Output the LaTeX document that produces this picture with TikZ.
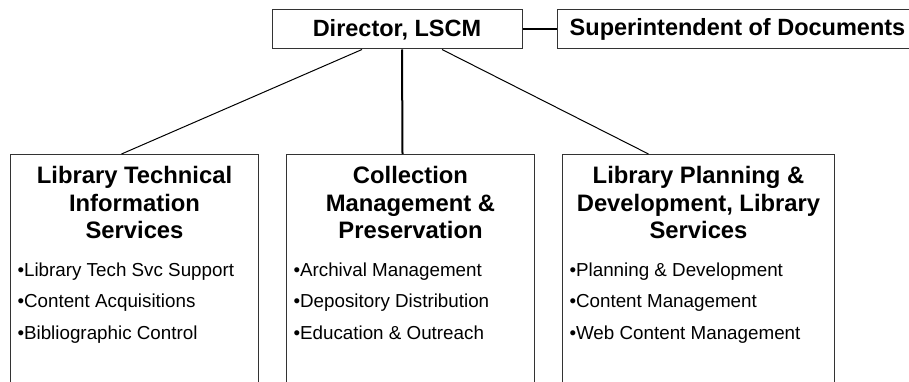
\documentclass[tikz,border=0pt]{standalone}
\usepackage{fontspec}
\setmainfont{Liberation Sans}
\usetikzlibrary{positioning,calc}

\begin{document}
\begin{tikzpicture}[x=1pt, y=-1pt, line width=1pt,
  head/.style = {draw=black!80, rectangle, minimum height=39pt, inner sep=0pt, font=\bfseries\fontsize{23.5}{26}\selectfont},
  unit/.style = {draw=black!80, rectangle, anchor=north west, minimum height=240pt, inner sep=0pt},
  title/.style = {align=center, anchor=north, inner sep=0pt, font=\bfseries\fontsize{23.8}{27.3}\selectfont},
  item/.style = {align=left, anchor=north west, inner sep=0pt, font=\fontsize{18.8}{31.5}\selectfont}]
\useasboundingbox (0,0) rectangle (909,382);
\node[head, minimum width=250pt] (dir) at (397,29.5) {Director, LSCM};
\node[head, minimum width=360pt, anchor=west] (sod) at (557,29.5) {Superintendent of Documents};
\node[unit, minimum width=248pt] (lts) at (10,154) {};
\node[unit, minimum width=248pt] (cmp) at (286,154) {};
\node[unit, minimum width=272pt] (lpd) at (562,154) {};
\node[title, below=12pt of lts.north] (ltsT) {Library Technical\\Information\\Services};
\node[title, below=12pt of cmp.north] (cmpT) {Collection\\Management \&\\Preservation};
\node[title, below=12pt of lpd.north] (lpdT) {Library Planning \&\\Development, Library\\Services};
\node[item, below right=108pt and 7pt of lts.north west] (ltsI) {•Library Tech Svc Support\\•Content Acquisitions\\•Bibliographic Control};
\node[item, below right=108pt and 7pt of cmp.north west] (cmpI) {•Archival Management\\•Depository Distribution\\•Education \& Outreach};
\node[item, below right=108pt and 7pt of lpd.north west] (lpdI) {•Planning \& Development\\•Content Management\\•Web Content Management};
\draw[line width=2pt] (dir.east) -- (sod.west);
\draw ($(dir.south)+(-35,0)$) -- ($(lts.north)+(-13,0)$);
\draw[line width=2pt] ($(dir.south)+(5,0)$) -- ($(cmp.north)+(-8,0)$);
\draw ($(dir.south)+(45,0)$) -- ($(lpd.north)+(-50,0)$);
\end{tikzpicture}
\end{document}
